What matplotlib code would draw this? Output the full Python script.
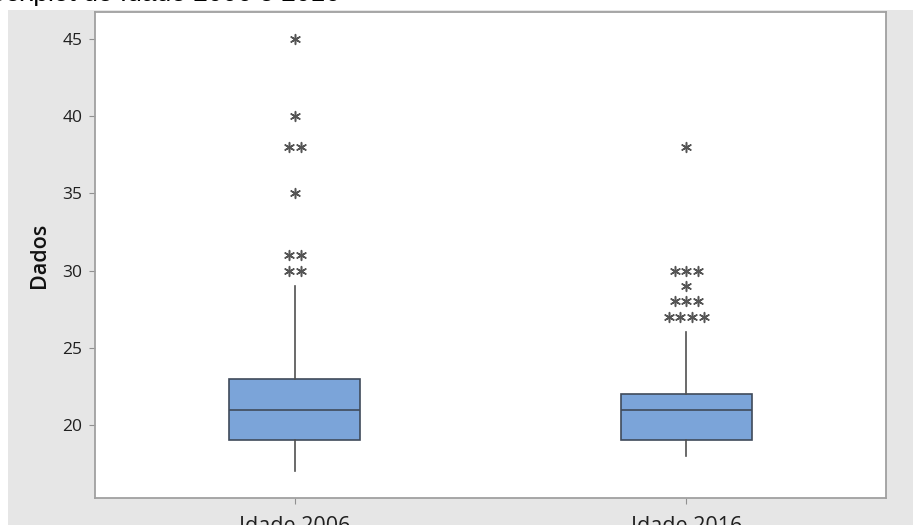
import matplotlib
matplotlib.use("Agg")
import matplotlib.pyplot as plt
from matplotlib.patches import Rectangle

# Box statistics per group
groups = ["Idade 2006", "Idade 2016"]
q1 = [19, 19]
median = [21, 21]
q3 = [23, 22]
whisker_low = [17, 18]
whisker_high = [29, 26]
outliers_2006 = [45, 40, 38, 38, 35, 31, 31, 30, 30]
outliers_2016 = [38, 30, 30, 30, 29, 28, 28, 28, 27, 27, 27, 27]
outliers = [outliers_2006, outliers_2016]
y_ticks = [20, 25, 30, 35, 40, 45]

W, H = 913, 525
fig = plt.figure(figsize=(W / 100, H / 100), dpi=100, facecolor="white")

# gray panel behind the plot area
fig.patches.append(Rectangle((8 / W, 0), 1 - 8 / W, (H - 10) / H,
                             transform=fig.transFigure, facecolor="#e6e6e6",
                             edgecolor="none", zorder=-5))

fig.text(340 / W, (H - 1) / H, "Boxplot de Idade 2006 e 2016", ha="right",
         va="baseline", fontsize=19, family="Liberation Sans", color="black")

ax = fig.add_axes([95 / W, 1 - 498 / H, (886 - 95) / W, (498 - 12) / H])
ax.set_zorder(2)
ax.set_facecolor("white")

positions = [1, 2]
stats = []
for i, g in enumerate(groups):
    stats.append(dict(label=g, med=median[i], q1=q1[i], q3=q3[i],
                      whislo=whisker_low[i], whishi=whisker_high[i], fliers=[]))

ax.bxp(stats, positions=positions, widths=0.335, patch_artist=True,
       showcaps=False,
       boxprops=dict(facecolor="#7ba4d9", edgecolor="#3f4a5a", linewidth=1.2),
       medianprops=dict(color="#3f4a5a", linewidth=1.2),
       whiskerprops=dict(color="#505050", linewidth=1.2))

# outliers: equal values are placed side by side around the box centre
step = 0.03
for pos, vals in zip(positions, outliers):
    counts = {}
    for v in vals:
        counts[v] = counts.get(v, 0) + 1
    xs, ys = [], []
    for v, n in counts.items():
        for k in range(n):
            xs.append(pos + (k - (n - 1) / 2) * step)
            ys.append(v)
    ax.scatter(xs, ys, marker=(6, 2, 0), s=50, linewidths=1.1,
               color="#555555", zorder=3)

ax.set_xlim(0.49, 2.51)
ax.set_ylim(15.27, 46.75)
ax.set_yticks(y_ticks)
ax.set_xticks(positions)
ax.set_xticklabels(groups)

for s in ax.spines.values():
    s.set_color("#a0a0a0")
    s.set_linewidth(1.3)

ax.tick_params(axis="y", length=4, color="#909090", labelsize=12.5,
               labelcolor="#202020", pad=5)
ax.tick_params(axis="x", length=4, color="#909090", labelsize=15.5,
               labelcolor="#202020", pad=9)
for lbl in ax.get_yticklabels() + ax.get_xticklabels():
    lbl.set_family("Open Sans")

ax.set_ylabel("Dados", fontsize=15.5, family="Open Sans", fontweight="semibold",
              color="#111111", labelpad=9)

fig.savefig("out.png", dpi=100, facecolor="white")
